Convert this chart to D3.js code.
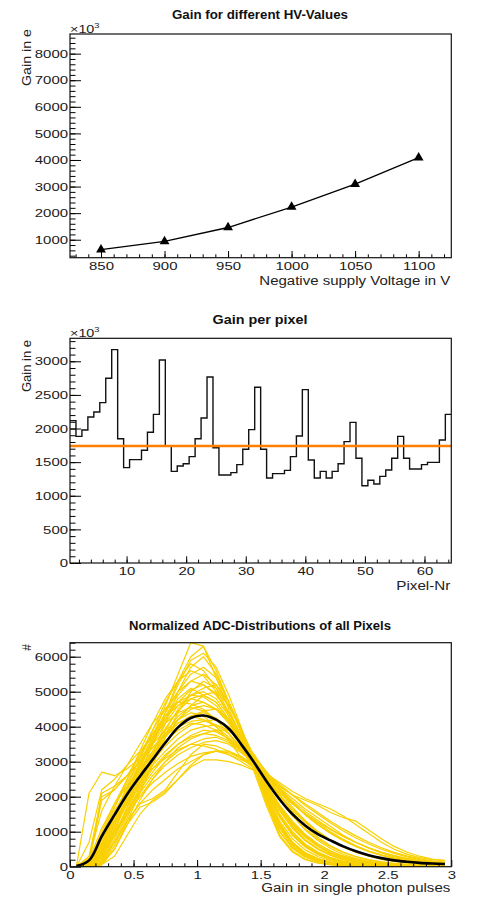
<!DOCTYPE html>
<html><head><meta charset="utf-8">
<script src="https://cdn.jsdelivr.net/npm/d3@7"></script>
<style>body{margin:0;background:#fff} svg{display:block}</style>
</head><body><svg id="c" width="478" height="906"></svg>
<script>
// ---------------- DATA ----------------
// Panel 1: Gain for different HV values
const hvVoltages = [850, 900, 950, 1000, 1050, 1100];
const hvGain = [630, 940, 1460, 2230, 3090, 4090]; // x10^3 e

// Panel 2: Gain per pixel (64 pixels)
const pixelNr = d3.range(1, 65);
const pixelGain = [2117,1884,1978,2172,2246,2385,2747,3173,
  1849,1418,1537,1537,1676,1944,2211,3019,
  1745,1363,1443,1477,1582,1849,2157,2767,
  1715,1309,1309,1344,1463,1691,1983,2613,
  1691,1264,1329,1329,1378,1582,1889,2578,
  1532,1264,1363,1264,1363,1477,1805,2092,
  1557,1150,1230,1175,1289,1383,1557,1884,
  1557,1398,1398,1463,1497,1497,1829,2211];
const meanGain = 1740;

// Panel 3: Normalized ADC distributions
const adcBins = [0.05,0.15,0.25,0.35,0.45,0.55,0.65,0.75,0.85,0.95,
  1.05,1.15,1.25,1.35,1.45,1.55,1.65,1.75,1.85,1.95,
  2.05,2.15,2.25,2.35,2.45,2.55,2.65,2.75,2.85,2.95];
const adcMean = [20,180,870,1480,2070,2580,3060,3540,3980,4250,
  4320,4200,3940,3480,2970,2420,1920,1500,1180,930,
  750,580,440,330,245,180,140,110,90,75];
const adcPixels = [
  [0,50,400,1200,2000,2900,3700,4600,5500,6400,6300,5400,4500,3700,2900,1800,1000,550,300,150,80,50,30,20,15,10,10,5,5,5],
  [0,20,200,900,1700,2600,3500,4400,5300,6000,6300,5600,4700,3800,2900,1800,900,450,220,120,60,40,25,15,10,8,5,5,3,3],
  [0,80,700,1500,2300,3100,3900,4700,5300,5800,5600,5100,4400,3700,2900,1900,1100,600,320,170,90,50,30,20,15,10,8,5,5,3],
  [0,30,300,1000,1900,2700,3500,4300,4900,5300,5500,5200,4600,3900,3000,2000,1150,650,350,200,110,60,40,25,15,10,8,5,5,3],
  [0,200,1100,1800,2500,3200,3900,4500,5000,5300,5200,4900,4400,3700,2900,1900,1100,650,380,220,120,70,40,25,15,10,8,5,5,3],
  [0,10,150,700,1500,2300,3100,3900,4500,4900,5100,5200,4700,3900,3000,2100,1250,700,400,230,130,80,50,30,20,15,10,8,5,5],
  [0,40,450,1200,2000,2800,3600,4400,5200,5900,6100,5700,4900,3950,2950,1850,1000,520,270,140,75,40,25,15,10,6,4,3,2,1],
  [0,70,650,1400,2200,3000,3700,4400,5000,5500,5700,5400,4700,3900,2950,1950,1150,650,350,190,100,55,32,20,12,8,5,3,2,1],
  [0,100,900,1700,2400,3100,3800,4300,4700,4900,5000,4800,4300,3600,2900,2200,1500,1000,650,420,260,160,100,60,40,25,15,10,8,5],
  [0,150,1900,2200,2600,3200,3800,4300,4600,4800,4700,4500,4100,3500,2900,2200,1600,1100,750,500,330,210,130,80,50,30,20,15,10,8],
  [0,0,100,600,1400,2200,3000,3700,4200,4500,4600,4500,4200,3700,3000,2300,1700,1200,850,600,400,260,170,110,70,45,30,20,15,10],
  [0,60,600,1400,2100,2700,3200,3700,4100,4300,4450,4500,4200,3600,2950,2300,1700,1250,900,650,450,300,200,130,90,60,40,30,20,15],
  [0,2100,2700,2600,2800,3100,3500,3900,4200,4400,4300,4000,3600,3100,2800,2200,1600,1100,750,500,320,200,130,80,50,35,25,15,10,8],
  [0,100,2100,2300,2600,3000,3400,3800,4100,4300,4200,4000,3700,3300,2900,2300,1700,1200,850,580,380,250,160,100,60,40,25,15,10,8],
  [0,40,400,1100,1800,2500,3200,3800,4300,4600,4700,4500,4100,3600,3000,2350,1750,1250,880,600,400,260,170,110,70,45,30,20,12,8],
  [0,80,800,1500,2200,2900,3600,4200,4800,5100,4900,4700,4200,3600,2900,2100,1400,900,580,360,220,130,80,50,30,20,12,8,5,3],
  [0,300,2000,2200,2600,3000,3400,3750,4000,4150,4200,4050,3800,3400,2950,2400,1900,1450,1080,790,570,400,280,190,130,90,60,40,30,20],
  [0,100,1000,1800,2300,2800,3200,3600,3900,4100,4050,3900,3650,3300,2950,2500,2050,1650,1300,1000,760,570,420,310,220,160,110,80,55,40],
  [0,0,50,500,1300,2100,2900,3700,4400,5000,5300,5100,4600,3900,3000,2000,1200,700,400,230,130,75,45,30,20,12,8,5,3,2],
  [0,60,650,1450,2200,2900,3500,4100,4600,4900,4850,4600,4150,3600,2950,2150,1450,950,620,400,250,150,90,55,35,20,12,8,5,3],
  [0,700,2200,2500,2900,3300,3700,4100,4400,4550,4450,4200,3800,3300,2850,2300,1750,1300,930,650,450,300,200,130,85,55,35,25,15,10],
  [0,50,500,1200,1800,2300,2800,3200,3500,3700,3800,3750,3600,3300,2950,2550,2150,1800,1500,1250,1000,780,600,450,330,240,170,120,90,70],
  [0,30,300,900,1500,2000,2500,2900,3200,3400,3550,3600,3500,3250,2950,2600,2250,1950,1650,1400,1150,900,700,530,390,280,200,140,100,80],
  [0,20,200,700,1300,1800,2200,2500,2800,3000,3200,3300,3300,3150,2900,2600,2300,2050,1900,1750,1550,1400,1300,1050,800,580,420,300,220,180],
  [0,0,60,300,900,1500,1900,2150,2500,2850,3050,3050,3000,2900,2750,2550,2300,2050,1800,1550,1300,1080,880,700,540,410,310,230,170,130],
  [0,0,100,500,1200,1700,1850,2100,2500,2900,3200,3300,3250,3100,2900,2650,2350,2050,1750,1500,1250,1020,820,650,500,380,280,200,150,110],
  [0,60,600,1300,1900,2400,2800,3100,3350,3500,3450,3350,3200,3000,2750,2450,2100,1800,1520,1280,1060,860,690,540,420,320,240,180,130,100],
  [0,20,250,900,1600,2200,2700,3150,3500,3750,3900,3850,3650,3350,3000,2600,2200,1820,1480,1200,960,760,590,450,340,250,180,130,95,70],
  [0,40,450,1200,1900,2400,2900,3300,3650,3900,4000,4050,3900,3550,3050,2500,2000,1600,1260,980,760,580,440,330,240,170,120,90,65,50],
  [0,20,250,900,1700,2400,3100,3700,4200,4600,4900,5000,4600,3900,3150,2250,1450,900,560,340,200,120,70,40,25,15,10,6,4,2],
  [0,90,800,1600,2200,2800,3300,3800,4100,4300,4400,4250,3950,3450,3100,2500,1950,1450,1050,750,520,350,230,150,100,65,40,28,18,12],
  [0,40,350,1000,1600,2100,2600,3000,3300,3500,3650,3700,3550,3300,3150,2700,2250,1850,1500,1200,950,740,570,430,320,230,165,120,85,60],
  [0,120,900,1700,2500,3300,4100,4800,5300,5600,5450,5000,4300,3600,2750,1800,1000,560,300,160,85,45,25,15,10,6,4,3,2,1],
  [0,0,80,500,1200,1900,2500,3000,3400,3650,3800,3900,3900,3600,3200,2650,2150,1700,1320,1010,760,560,410,300,210,150,105,75,55,40],
  [0,250,1600,2300,2900,3500,4100,4500,4700,4650,4500,4200,3800,3350,2800,2250,1650,1150,780,520,340,220,140,90,55,35,22,14,9,6],
  [0,30,300,900,1500,2000,2400,2700,2950,3150,3250,3300,3200,3050,2900,2650,2400,2150,1950,1800,1650,1450,1200,950,700,500,360,260,200,170],
  [0,0,150,800,1600,2400,3200,4100,5000,5700,6000,5500,4700,3800,2700,1700,850,420,200,100,50,28,16,10,6,4,3,2,1,1],
  [0,60,500,1200,1900,2500,3000,3450,3800,4050,4150,4200,4000,3600,3150,2600,2050,1550,1150,840,600,420,290,200,140,95,65,45,30,20],
  [0,50,550,1300,2100,2900,3600,4200,4700,5050,5200,4950,4400,3700,2850,2050,1300,800,480,290,170,100,60,35,20,12,8,5,3,2],
  [0,0,120,700,1300,1800,1950,2200,2700,3200,3500,3450,3300,3100,2850,2550,2200,1880,1580,1320,1080,870,690,540,410,310,230,170,125,95],
  [0,30,350,1050,1850,2600,3300,3950,4450,4800,4900,4700,4200,3550,2900,2150,1450,950,600,380,230,140,85,50,30,18,11,7,4,3]
];

// Tick values
const p1XMajor = [850, 900, 950, 1000, 1050, 1100];
const p1YMajor = [1000, 2000, 3000, 4000, 5000, 6000, 7000, 8000];
const p2XMajor = [10, 20, 30, 40, 50, 60];
const p2YMajor = [0, 500, 1000, 1500, 2000, 2500, 3000];
const p3XMajor = [0, 0.5, 1, 1.5, 2, 2.5, 3];
const p3YMajor = [0, 1000, 2000, 3000, 4000, 5000, 6000];

// ---------------- DRAWING ----------------
const FONT = '"Liberation Sans", Arial, Helvetica, sans-serif';
const svg = d3.select("#c");
const L = 70, R = 451.3;

function minorTicks(lo, hi, step) {
  const out = [];
  for (let i = Math.ceil(lo / step - 1e-9); i * step <= hi + 1e-9; i++) out.push(+(i * step).toFixed(6));
  return out;
}

function makePanel(cfg) {
  const g = svg.append("g");
  const x = d3.scaleLinear().domain(cfg.xDomain).range([L, R]);
  const y = d3.scaleLinear().domain(cfg.yDomain).range([cfg.bottom, cfg.top]);
  const id = "clip" + cfg.id;
  svg.append("clipPath").attr("id", id).append("rect")
    .attr("x", L).attr("y", cfg.top).attr("width", R - L).attr("height", cfg.bottom - cfg.top);
  const plot = g.append("g").attr("clip-path", `url(#${id})`);
  return { g, x, y, plot, cfg };
}

function drawAxes(p) {
  const { g, x, y, cfg } = p;
  const ag = g.append("g");
  ag.append("g").attr("transform", `translate(${L},0)`)
    .call(d3.axisLeft(y).tickValues(cfg.yMinor).tickSize(-5.5).tickFormat(""));
  ag.append("g").attr("transform", `translate(${L},0)`)
    .call(d3.axisLeft(y).tickValues(cfg.yMajor).tickSize(-11).tickPadding(1.5).tickFormat(d3.format("d")));
  ag.append("g").attr("transform", `translate(0,${cfg.bottom})`)
    .call(d3.axisBottom(x).tickValues(cfg.xMinor).tickSize(-3.4).tickFormat(""));
  ag.append("g").attr("transform", `translate(0,${cfg.bottom})`)
    .call(d3.axisBottom(x).tickValues(cfg.xMajor).tickSize(-6.7).tickPadding(3.8).tickFormat(cfg.xFmt));
  ag.selectAll(".domain").remove();
  ag.selectAll(".tick line").attr("stroke", "#000").attr("stroke-width", 1);
  ag.selectAll(".tick text").attr("font-family", FONT).attr("font-size", 11.5)
    .attr("fill", "#1a1a1a").attr("transform", "scale(1.3,1)");
  g.append("rect").attr("x", L).attr("y", cfg.top).attr("width", R - L)
    .attr("height", cfg.bottom - cfg.top).attr("fill", "none").attr("stroke", "#111").attr("stroke-width", 1.2);
}

function title(txt, cx, yb, len) {
  svg.append("text").attr("x", cx).attr("y", yb).attr("text-anchor", "middle")
    .attr("font-family", FONT).attr("font-size", 12).attr("font-weight", "bold").attr("fill", "#111")
    .attr("textLength", len).attr("lengthAdjust", "spacingAndGlyphs").text(txt);
}
function xTitle(txt, yb, len) {
  svg.append("text").attr("x", R - 1).attr("y", yb).attr("text-anchor", "end")
    .attr("font-family", FONT).attr("font-size", 12.5).attr("fill", "#222")
    .attr("textLength", len).attr("lengthAdjust", "spacingAndGlyphs").text(txt);
}
function yTitle(txt, xb, yEnd, len) {
  const t = svg.append("text").attr("transform", `translate(${xb},${yEnd}) rotate(-90)`)
    .attr("text-anchor", "end").attr("font-family", FONT).attr("font-size", 12).attr("fill", "#222").text(txt);
  if (len) t.attr("textLength", len).attr("lengthAdjust", "spacingAndGlyphs");
}
function exponent(yb) {
  const t = svg.append("text").attr("x", L).attr("y", yb)
    .attr("font-family", FONT).attr("font-size", 11.5).attr("fill", "#222");
  t.append("tspan").text("×10");
  t.append("tspan").attr("font-size", 7.5).attr("dy", -5).text("3");
  t.attr("transform", `translate(${L},0) scale(1.25,1) translate(${-L},0)`);
}

// ---------- Panel 1 ----------
const p1 = makePanel({ id: 1, xDomain: [825.6, 1125.7], yDomain: [324, 8739], top: 34, bottom: 257.7,
  xMajor: p1XMajor, xMinor: minorTicks(830, 1120, 10), yMajor: p1YMajor, yMinor: minorTicks(400, 8600, 200),
  xFmt: d3.format("d") });
p1.plot.append("path").datum(hvVoltages.map((v, i) => [v, hvGain[i]]))
  .attr("d", d3.line().x(d => p1.x(d[0])).y(d => p1.y(d[1])))
  .attr("fill", "none").attr("stroke", "#000").attr("stroke-width", 1.3);
p1.plot.selectAll("path.mk").data(hvVoltages.map((v, i) => [v, hvGain[i]])).join("path")
  .attr("class", "mk").attr("transform", d => `translate(${p1.x(d[0])},${p1.y(d[1])})`)
  .attr("d", d3.symbol(d3.symbolTriangle, 42)).attr("fill", "#000");
drawAxes(p1);
title("Gain for different HV-Values", 260, 19.3, 176);
xTitle("Negative supply Voltage in V", 284.5, 191);
yTitle("Gain in e", 31, 29, 57);
exponent(32.8);

// ---------- Panel 2 ----------
const p2 = makePanel({ id: 2, xDomain: [0.5, 64.5], yDomain: [0, 3342], top: 338.3, bottom: 563,
  xMajor: p2XMajor, xMinor: minorTicks(2, 64, 2), yMajor: p2YMajor, yMinor: minorTicks(100, 3300, 100),
  xFmt: d3.format("d") });
const stepPts = pixelNr.map((n, i) => [n - 0.5, pixelGain[i]]);
stepPts.push([pixelNr[pixelNr.length - 1] + 0.5, pixelGain[pixelGain.length - 1]]);
p2.plot.append("path").datum(stepPts)
  .attr("d", d3.line().curve(d3.curveStepAfter).x(d => p2.x(d[0])).y(d => p2.y(d[1])))
  .attr("fill", "none").attr("stroke", "#111").attr("stroke-width", 1.4);
p2.plot.append("line").attr("x1", L).attr("x2", R).attr("y1", p2.y(meanGain)).attr("y2", p2.y(meanGain))
  .attr("stroke", "#ff8000").attr("stroke-width", 2.6);
drawAxes(p2);
title("Gain per pixel", 260, 324, 95);
xTitle("Pixel-Nr", 590, 54);
yTitle("Gain in e", 31, 340, 52);
exponent(337.3);

// ---------- Panel 3 ----------
const p3 = makePanel({ id: 3, xDomain: [0, 3], yDomain: [0, 6400], top: 642.7, bottom: 866.7,
  xMajor: p3XMajor, xMinor: minorTicks(0.1, 2.9, 0.1), yMajor: p3YMajor, yMinor: minorTicks(200, 6400, 200),
  xFmt: d => d3.format("")(d) });
const lineY = d3.line().x((d, i) => p3.x(adcBins[i])).y(d => p3.y(d));
p3.plot.selectAll("path.px").data(adcPixels).join("path").attr("class", "px")
  .attr("d", lineY).attr("fill", "none").attr("stroke", "#f9d000").attr("stroke-width", 1.2)
  .attr("stroke-linejoin", "round");
p3.plot.append("path").datum(adcMean)
  .attr("d", d3.line().curve(d3.curveCatmullRom).x((d, i) => p3.x(adcBins[i])).y(d => p3.y(d)))
  .attr("fill", "none").attr("stroke", "#000").attr("stroke-width", 2.6);
drawAxes(p3);
title("Normalized ADC-Distributions of all Pixels", 260, 629.5, 262);
xTitle("Gain in single photon pulses", 892, 189);
svg.append("text").attr("transform", "translate(31,647.5) rotate(-90)").attr("text-anchor", "middle")
  .attr("font-family", FONT).attr("font-size", 12).attr("fill", "#222").text("#");
</script>
</body></html>
